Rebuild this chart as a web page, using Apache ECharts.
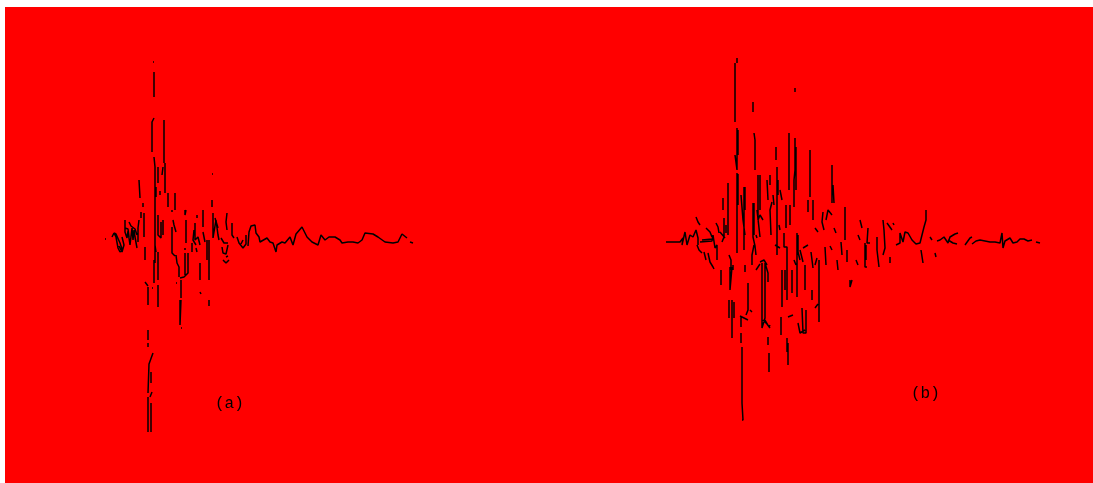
<!DOCTYPE html>
<html><head><meta charset="utf-8">
<style>html,body{margin:0;padding:0;background:#fff}#c{width:1093px;height:483px}</style>
<script src="https://cdn.jsdelivr.net/npm/echarts@6/dist/echarts.min.js"></script>
</head><body><div id="c"></div>
<script>
// Traces: [time, amplitude]; null marks a break in the trace.
const traceA = [
 [105,1],[106,1],null,
 [112,3],[114,7],[116,3],[118,-8],[120,-12],[122,-9],[120,-3],[116,6],[114,7],null,
 [119,-6],[122,-12],[124,-5],[122,3],null,
 [125,20],[125,8],[127,2],[128,9],[130,-5],[132,12],[133,0],[134,10],[135,3],[137,-8],null,
 [129,18],[131,14],[135,11],[137,5],null,[125,12],[128,11],[129,3],null,
 [139,60],[140,42],null,[141,28],[141,22],null,[139,20],[138,12],[138,-2],null,
 [143,37],[143,33],null,[144,27],[144,3],null,[145,-7],[145,-20],null,
 [145,-42],[148,-46],null,[148,-47],[148,-65],null,[152,-48],[153,-48],null,
 [148,-90],[148,-100],null,[148,-103],[148,-107],null,
 [153,-113],[149,-124],[148,-125],[148,-153],null,[151,-132],[151,-143],null,[152,-152],[150,-157],null,
 [148,-157],[148,-192],null,[151,-163],[151,-192],null,
 [153,178],[154,178],null,[154,168],[154,143],null,
 [154,122],[152,118],[152,88],null,[154,83],[155,73],[155,-23],null,[156,53],[156,43],null,
 [155,-5],[156,-12],null,[154,-20],[154,-43],null,
 [158,73],[158,57],null,[160,49],[160,45],null,[158,25],[158,5],[161,2],[161,18],null,[163,20],[163,5],null,
 [158,-12],[158,-40],null,[158,-45],[158,-67],null,
 [164,120],[164,77],null,[165,77],[165,47],null,[163,73],[162,65],null,[168,47],[168,33],null,
 [172,13],[172,-13],[175,-16],null,[175,47],[175,30],null,[173,20],[174,15],[176,8],null,[172,30],[172,28],null,
 [176,-15],[177,-23],[179,-27],[179,-37],null,[176,-43],[177,-43],null,
 [181,-40],[181,-58],null,[180,-60],[180,-85],[181,-85],[181,-60],null,[181,-88],[182,-88],null,
 [180,-38],[184,-37],[188,-33],[188,-13],null,[185,-35],[185,-13],null,
 [185,30],[185,25],[186,25],[186,30],null,[186,20],[186,-3],null,[185,-8],[185,-10],null,
 [192,-3],[192,-12],null,[197,25],[197,22],null,[195,17],[195,0],[198,3],[200,-5],null,[194,10],[193,0],[196,-5],null,[196,-8],[197,-12],null,
 [200,-23],[200,-40],null,[200,-52],[201,-54],null,
 [203,30],[203,13],null,[203,8],[205,-2],null,
 [207,0],[207,-20],null,[209,0],[209,-40],null,[209,-60],[209,-66],null,
 [212,66],[213,66],null,[212,40],[212,33],null,[213,27],[213,2],[214,8],[216,20],[218,5],[219,0],null,[215,22],[218,12],null,
 [222,-7],[223,-13],[226,-14],[228,-5],null,[223,-20],[226,-23],[229,-20],null,[226,-17],[228,-16],null,
 [227,27],[226,18],[227,10],null,[232,17],[232,5],[234,2],null,[221,2],[224,-3],[228,-3],null,
 [237,3],[239,-3],[243,-8],[246,-4],[246,5],null,[241,-4],[243,0],null,
 [248,-6],[249,8],[251,14],[255,15],[256,7],[259,3],[260,-2],[262,0],[267,2],[270,-2],[273,-3],[276,-12],[277,-5],[282,-2],[285,-3],[290,3],[293,-5],[296,6],[302,13],[307,3],[312,-2],[318,-5],[320,-3],[321,5],[325,0],[329,3],[335,3],[340,0],[342,-3],[348,-2],[353,-2],[358,-3],[362,0],[365,7],[373,6],[378,3],[385,-2],[393,-3],[398,-2],[402,6],[407,2],null,[410,-2],[413,-3]
];
const traceB = [
 [666,-2],[668,-2],[680,-2],[683,2],[682,-5],[685,8],[687,-5],[690,5],[693,3],[696,10],[698,2],[698,-5],null,
 [696,23],[698,18],[700,15],null,[697,-5],[699,-10],[702,-13],null,
 [700,-2],[701,-1],[712,-1],[713,5],[715,-8],[717,-5],[717,-20],null,
 [702,0],[712,1],null,[706,12],[710,8],[712,3],null,[716,17],[718,13],[719,7],null,
 [708,-13],[710,-22],[713,-27],[714,-29],null,[721,-30],[721,-45],null,
 [723,42],[723,30],null,[724,22],[724,3],[722,-2],null,[726,15],[726,7],null,
 [728,57],[728,5],null,[729,-15],[731,-20],[731,-30],null,
 [730,-27],[730,-50],[732,-50],[732,-27],null,[733,-25],[733,-30],null,
 [729,-60],[729,-78],null,[732,-60],[732,-98],null,[734,-62],[734,-78],null,
 [735,177],[735,118],null,[737,182],[737,177],null,
 [737,112],[737,70],[735,70],[735,85],null,[738,110],[738,85],null,
 [737,67],[737,-13],null,[738,66],[738,35],null,
 [741,-77],[741,-87],null,[741,-93],[741,-103],null,[742,-107],[742,-163],[743,-163],[743,-180],[742,-180],null,
 [744,53],[744,-10],null,[745,53],[745,30],null,[745,-25],[745,-32],null,
 [748,-43],[748,-70],[746,-75],null,[750,-70],[752,-72],null,
 [752,-25],[752,-15],[754,-5],null,[753,138],[753,128],null,[754,107],[755,100],[755,70],null,
 [753,37],[753,3],[755,-6],[756,-15],null,[754,37],[754,5],null,[756,5],[757,2],null,
 [758,65],[758,20],[760,25],[763,20],null,[760,65],[760,30],null,
 [762,-23],[762,-88],[765,-78],[765,-23],[768,-33],[768,-42],null,[765,-80],[769,-87],[770,-85],null,
 [760,-22],[764,-20],[767,-25],null,
 [768,-97],[768,-105],null,[769,-113],[769,-132],null,
 [770,65],[770,55],null,[772,38],[770,30],[771,5],null,[776,93],[776,80],null,[777,73],[777,-15],null,[778,60],[778,45],null,
 [779,15],[780,10],null,[782,-30],[782,-67],null,[781,-77],[781,-95],null,[785,-30],[785,-50],null,
 [784,7],[784,-7],[787,-7],[787,-60],null,[786,35],[786,12],null,[787,-98],[787,-112],null,[788,-103],[788,-125],null,
 [789,107],[789,50],null,[790,35],[790,15],null,[792,-30],[792,-53],null,
 [795,152],[795,148],null,[795,102],[795,70],[794,60],[794,33],null,[796,93],[796,50],null,[797,7],[797,-57],null,[798,5],[798,-15],null,
 [800,-10],[803,-22],null,[802,-68],[803,-93],[806,-93],[806,-70],null,[805,-25],[805,-50],null,
 [810,90],[810,43],null,[808,40],[808,28],null,[813,40],[813,20],null,[811,-12],[813,-28],null,[812,-50],[812,-60],null,
 [815,-25],[817,-18],null,[819,-20],[819,-82],null,[815,-68],[818,-64],null,
 [825,-7],[826,-25],null,[823,28],[822,18],[824,10],null,[826,20],[828,30],[832,25],null,
 [832,75],[832,37],null,[834,12],[836,7],null,[830,-6],[832,-10],null,
 [837,-20],[838,-30],null,[841,-2],[842,-15],null,[845,33],[845,0],null,[847,-10],[847,-22],null,
 [850,-40],[850,-47],[852,-40],null,[856,-20],[858,-25],null,[860,20],[862,12],null,[858,5],[860,0],null,
 [865,-3],[865,-27],[867,-27],null,[868,12],[867,-3],[870,-3],null,[866,-5],[866,-20],null,
 [877,3],[877,-10],[879,-10],[879,-27],null,[883,20],[884,10],[885,-8],[883,-15],null,[887,17],[892,10],null,
 [890,-17],[890,-23],null,[893,17],[894,15],null,[896,-5],[900,-3],[900,7],[903,-2],[905,8],[908,7],[912,0],[916,-4],[920,-3],[922,5],[924,13],[926,20],[926,30],null,
 [921,-10],[923,-23],null,[930,3],[932,0],null,[935,-13],[936,-17],null,[937,-1],[940,0],[944,3],[948,-3],[950,3],[955,6],[958,7],null,[948,0],[953,-3],[957,-4],null,
 [965,-5],[967,-3],[970,2],[972,3],null,[972,-4],[976,-1],[980,0],[985,-1],[990,-2],[995,-2],[1000,-3],[1002,7],[1003,-8],[1005,-1],[1010,2],[1013,-3],[1017,-2],[1020,1],[1024,1],[1028,-1],[1032,0],null,[1036,-2],[1040,-3],null,
 [741,45],[743,20],[745,5],null,[740,-76],[744,-78],[748,-80],null,[763,-80],[767,-84],[770,-88],null,
 [798,-83],[800,-93],[805,-90],null,[788,-77],[793,-75],null,[757,30],[759,12],[760,3],null,
 [794,-20],[796,-25],null,[780,50],[782,40],null,[773,45],[774,35],null,[767,60],[768,40],null,
 [798,-12],[800,-20],null,[815,12],[818,8],null,[833,55],[834,37],null,[756,-30],[760,-24],null,
 [775,-5],[780,-8],null,[803,-8],[808,-5],null,[720,8],[725,2],null,[704,-12],[706,-20],null
];
const labelA = "(a)";
const labelB = "(b)";
const opt = {
  animation:false,
  grid:{left:5,right:0,top:7,bottom:0,show:true,backgroundColor:'#ff0000',borderWidth:0},
  xAxis:{type:'value',min:5,max:1093,show:false},
  yAxis:{type:'value',min:-243,max:233,show:false},
  graphic:[
    {type:'text',left:215,top:396,style:{text:labelA,fill:'#000',font:'16px "Liberation Mono",monospace'}},
    {type:'text',left:911,top:386,style:{text:labelB,fill:'#000',font:'16px "Liberation Mono",monospace'}}
  ],
  series:[traceA,traceB].map(t=>({
    type:'line',showSymbol:false,symbol:'none',connectNulls:false,smooth:false,clip:true,
    lineStyle:{color:'#000',width:1.5},
    data:t.map(p=>p||[null,null])
  }))
};
echarts.init(document.getElementById('c')).setOption(opt);
</script></body></html>
